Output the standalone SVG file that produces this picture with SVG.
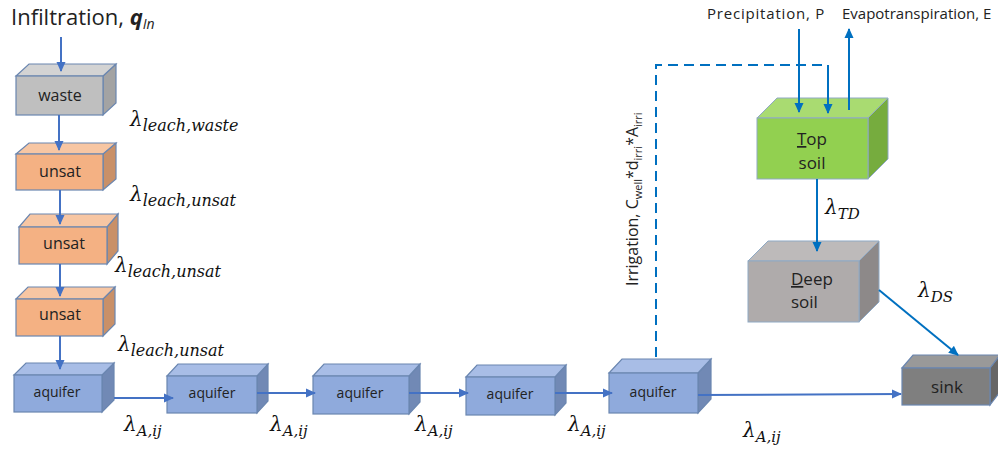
<svg xmlns="http://www.w3.org/2000/svg" width="998" height="452" viewBox="0 0 998 452">
<defs>
<marker id="ahL" markerWidth="10" markerHeight="10" refX="9" refY="5" orient="auto" markerUnits="userSpaceOnUse"><path d="M0,0.5 L10,5 L0,9.5 Z" fill="#4472C4"/></marker>
<marker id="ahR" markerWidth="10" markerHeight="10" refX="9" refY="5" orient="auto" markerUnits="userSpaceOnUse"><path d="M0,0.5 L10,5 L0,9.5 Z" fill="#0070C0"/></marker>
</defs>
<style>
.bx{stroke:#6A86B0;stroke-width:1.2}
.wf{fill:#BFBFBF}.wt{fill:#D3D3D3}.ws{fill:#A3A3A3}
.uf{fill:#F4B183}.ut{fill:#F7C6A3}.us{fill:#C99068}
.af{fill:#8FAADC}.at{fill:#A8BDE6}.as{fill:#7189B5}
.tf{fill:#92D050}.tt{fill:#A9DB71}.ts{fill:#76AC3E}
.df{fill:#AFABAB}.dt{fill:#BDBABA}.ds{fill:#8D8989}
.sf{fill:#7F7F7F}.st{fill:#999999}.ss{fill:#666666}
.lbl{font-family:"Open Sans","Liberation Sans",sans-serif;fill:#222;text-anchor:middle}
.lam{font-family:"DejaVu Serif",serif;font-style:italic;fill:#111}
.cL{stroke:#4472C4;stroke-width:2;fill:none}
.cR{stroke:#0070C0;stroke-width:2;fill:none}
.sm{font-family:"Open Sans","Liberation Sans",sans-serif;font-size:16px;fill:#222}
</style>

<text x="11" y="25" font-family="Open Sans, Liberation Sans, sans-serif" font-size="22" fill="#222">Infiltration, <tspan font-weight="bold" font-style="italic">q</tspan><tspan font-style="italic" font-size="14" dy="4">In</tspan></text>

<g id="waste">
<polygon class="bx ws" points="103,76 116,64 116,103 103,115"/>
<polygon class="bx wt" points="16,76 29,64 116,64 103,76"/>
<rect class="bx wf" x="16" y="76" width="87" height="39"/>
<text class="lbl" x="60" y="101" font-size="16">waste</text>
</g>
<g id="unsat1">
<polygon class="bx us" points="103,154 116,143 116,179 103,190"/>
<polygon class="bx ut" points="16,154 29,143 116,143 103,154"/>
<rect class="bx uf" x="16" y="154" width="87" height="36"/>
<text class="lbl" x="60" y="177" font-size="16">unsat</text>
</g>
<g id="unsat2">
<polygon class="bx us" points="107,227 118,214 118,251 107,264"/>
<polygon class="bx ut" points="19,227 30,214 118,214 107,227"/>
<rect class="bx uf" x="19" y="227" width="88" height="37"/>
<text class="lbl" x="64" y="249" font-size="16">unsat</text>
</g>
<g id="unsat3">
<polygon class="bx us" points="103,299 115,287 115,324 103,336"/>
<polygon class="bx ut" points="16,299 28,287 115,287 103,299"/>
<rect class="bx uf" x="16" y="299" width="87" height="37"/>
<text class="lbl" x="60" y="320" font-size="16">unsat</text>
</g>
<g id="aquifer1">
<polygon class="bx as" points="102,375 114,363 114,400 102,412"/>
<polygon class="bx at" points="14,375 26,363 114,363 102,375"/>
<rect class="bx af" x="14" y="375" width="88" height="37"/>
<text class="lbl" x="57" y="397" font-size="14">aquifer</text>
</g>
<g id="aquifer2">
<polygon class="bx as" points="257,376 268,364 268,401 257,413"/>
<polygon class="bx at" points="167,376 178,364 268,364 257,376"/>
<rect class="bx af" x="167" y="376" width="90" height="37"/>
<text class="lbl" x="212" y="398" font-size="14">aquifer</text>
</g>
<g id="aquifer3">
<polygon class="bx as" points="409,376 420,364 420,402 409,414"/>
<polygon class="bx at" points="313,376 324,364 420,364 409,376"/>
<rect class="bx af" x="313" y="376" width="96" height="38"/>
<text class="lbl" x="360" y="398" font-size="14">aquifer</text>
</g>
<g id="aquifer4">
<polygon class="bx as" points="555,377 566,365 566,403 555,415"/>
<polygon class="bx at" points="466,377 477,365 566,365 555,377"/>
<rect class="bx af" x="466" y="377" width="89" height="38"/>
<text class="lbl" x="510" y="399" font-size="14">aquifer</text>
</g>
<g id="aquifer5">
<polygon class="bx as" points="698,373 711,359 711,399 698,413"/>
<polygon class="bx at" points="609,373 622,359 711,359 698,373"/>
<rect class="bx af" x="609" y="373" width="89" height="40"/>
<text class="lbl" x="653" y="397" font-size="14">aquifer</text>
</g>
<g id="sink">
<polygon class="bx ss" points="990,368 1000,355 1000,392 990,405"/>
<polygon class="bx st" points="902,368 913,355 1000,355 990,368"/>
<rect class="bx sf" x="902" y="368" width="88" height="37"/>
<text class="lbl" x="947" y="393" font-size="17">sink</text>
</g>
<g id="topsoil">
<polygon class="ts" stroke="#8FA9C4" stroke-width="1" points="868,118 888,98 888,159 868,179"/>
<polygon class="tt" stroke="#8FA9C4" stroke-width="1" points="757,118 777,98 888,98 868,118"/>
<rect class="tf" stroke="#8FA9C4" stroke-width="1" x="757" y="118" width="111" height="61"/>
<text class="lbl" x="812" y="145" font-size="17"><tspan text-decoration="underline">T</tspan>op</text>
<text class="lbl" x="812" y="169" font-size="17">soil</text>
</g>
<g id="deepsoil">
<polygon class="ds" stroke="#8FA9C4" stroke-width="1" points="859,261 879,241 879,302 859,322"/>
<polygon class="dt" stroke="#8FA9C4" stroke-width="1" points="748,261 768,241 879,241 859,261"/>
<rect class="df" stroke="#8FA9C4" stroke-width="1" x="748" y="261" width="111" height="61"/>
<text x="791" y="285" font-size="17" font-family="Open Sans, Liberation Sans, sans-serif" fill="#222"><tspan text-decoration="underline">D</tspan>eep</text>
<text x="791" y="308" font-size="17" font-family="Open Sans, Liberation Sans, sans-serif" fill="#222">soil</text>
</g>

<g id="connectors">
<line class="cL" x1="61" y1="37" x2="61" y2="71" marker-end="url(#ahL)"/>
<line class="cL" x1="59" y1="115" x2="59" y2="150" marker-end="url(#ahL)"/>
<line class="cL" x1="60" y1="190" x2="60" y2="224" marker-end="url(#ahL)"/>
<line class="cL" x1="60" y1="264" x2="60" y2="296" marker-end="url(#ahL)"/>
<line class="cL" x1="60" y1="336" x2="60" y2="369" marker-end="url(#ahL)"/>
<line class="cL" x1="114" y1="398" x2="173" y2="398" marker-end="url(#ahL)"/>
<line class="cL" x1="257" y1="393" x2="315" y2="393" marker-end="url(#ahL)"/>
<line class="cL" x1="409" y1="393" x2="468" y2="393" marker-end="url(#ahL)"/>
<line class="cL" x1="555" y1="393" x2="612" y2="393" marker-end="url(#ahL)"/>
<line class="cL" x1="698" y1="395" x2="901" y2="394" marker-end="url(#ahL)"/>
<path class="cR" d="M656,357 L656,65 L828,65" stroke-dasharray="10,6"/>
<line class="cR" x1="828" y1="65" x2="828" y2="113" marker-end="url(#ahR)"/>
<line class="cR" x1="799" y1="29" x2="799" y2="112" marker-end="url(#ahR)"/>
<line class="cR" x1="849" y1="110" x2="849" y2="29" marker-end="url(#ahR)"/>
<line class="cR" x1="817" y1="179" x2="817" y2="251" marker-end="url(#ahR)"/>
<line class="cR" x1="879" y1="290" x2="958" y2="355" marker-end="url(#ahR)"/>
</g>

<text x="707" y="19" font-family="Open Sans, Liberation Sans, sans-serif" font-size="15" fill="#222" letter-spacing="0.8">Precipitation, P</text>
<text x="842" y="19" font-family="Open Sans, Liberation Sans, sans-serif" font-size="15" fill="#222">Evapotranspiration, E</text>
<text class="sm" transform="translate(638,286) rotate(-90)">Irrigation, C<tspan font-size="11" dy="4">well</tspan><tspan dy="-4">*d</tspan><tspan font-size="11" dy="4">irri</tspan><tspan dy="-4">*A</tspan><tspan font-size="11" dy="4">irri</tspan></text>

<text class="lam" x="130" y="126" font-size="20">λ<tspan font-size="16" dy="5">leach,waste</tspan></text>
<text class="lam" x="130" y="201" font-size="20">λ<tspan font-size="16" dy="5">leach,unsat</tspan></text>
<text class="lam" x="115" y="272" font-size="20">λ<tspan font-size="16" dy="5">leach,unsat</tspan></text>
<text class="lam" x="118" y="351" font-size="20">λ<tspan font-size="16" dy="5">leach,unsat</tspan></text>
<text class="lam" x="124" y="431" font-size="20">λ<tspan font-size="15" dy="5">A,ij</tspan></text>
<text class="lam" x="270" y="431" font-size="20">λ<tspan font-size="15" dy="5">A,ij</tspan></text>
<text class="lam" x="415" y="431" font-size="20">λ<tspan font-size="15" dy="5">A,ij</tspan></text>
<text class="lam" x="568" y="431" font-size="20">λ<tspan font-size="15" dy="5">A,ij</tspan></text>
<text class="lam" x="743" y="437" font-size="20">λ<tspan font-size="15" dy="5">A,ij</tspan></text>
<text class="lam" x="825" y="214" font-size="20">λ<tspan font-size="15" dy="5">TD</tspan></text>
<text class="lam" x="918" y="297" font-size="20">λ<tspan font-size="15" dy="5">DS</tspan></text>
</svg>
